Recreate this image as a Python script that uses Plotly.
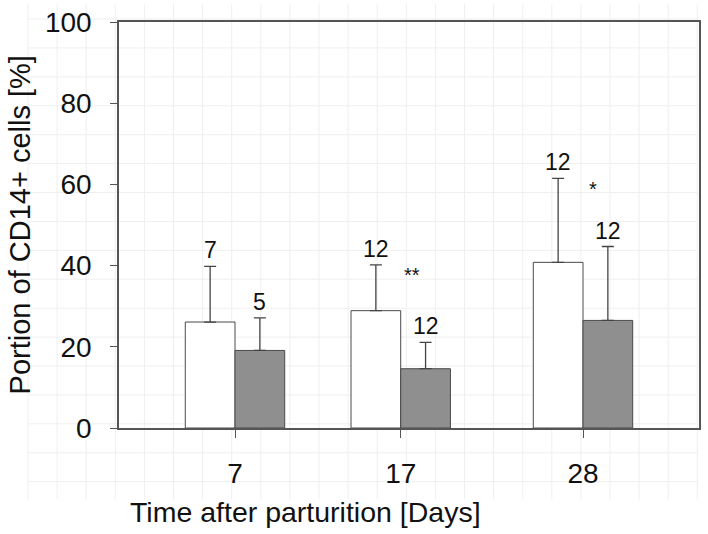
import plotly.graph_objects as go

# ---- data ----
days = [7, 17, 28]
white_mean = [26.1, 28.9, 40.8]
white_err = [13.7, 11.3, 20.7]
white_n = ["7", "12", "12"]
gray_mean = [19.1, 14.6, 26.5]
gray_err = [8.0, 6.5, 18.2]
gray_n = ["5", "12", "12"]
sig_text = ["**", "*"]
sig_x = [17.7, 28.6]
sig_y = [38.5, 59.5]

y_ticks = [0, 20, 40, 60, 80, 100]

FONT = "Liberation Sans, Arial, sans-serif"
AX = "#555555"
BAR_W = 3

fig = go.Figure()
fig.add_trace(go.Bar(
    x=days, y=white_mean, width=BAR_W, offset=-BAR_W,
    marker=dict(color="white", line=dict(color="#4a4a4a", width=1)),
    error_y=dict(type="data", array=white_err, arrayminus=[0] * 3, symmetric=False,
                 color="#444444", thickness=1.3, width=6),
    showlegend=False,
))
fig.add_trace(go.Bar(
    x=days, y=gray_mean, width=BAR_W, offset=0,
    marker=dict(color="#8f8f8f", line=dict(color="#4a4a4a", width=1)),
    error_y=dict(type="data", array=gray_err, arrayminus=[0] * 3, symmetric=False,
                 color="#444444", thickness=1.3, width=6),
    showlegend=False,
))

ann = []
for d, m, e, n in zip(days, white_mean, white_err, white_n):
    ann.append(dict(x=d - BAR_W / 2, y=m + e, text=n, xref="x", yref="y",
                    showarrow=False, yanchor="bottom", yshift=1,
                    font=dict(size=23, family=FONT, color="#111")))
for d, m, e, n in zip(days, gray_mean, gray_err, gray_n):
    ann.append(dict(x=d + BAR_W / 2, y=m + e, text=n, xref="x", yref="y",
                    showarrow=False, yanchor="bottom", yshift=1,
                    font=dict(size=23, family=FONT, color="#111")))
for t, x, y in zip(sig_text, sig_x, sig_y):
    ann.append(dict(x=x, y=y, text=t, xref="x", yref="y", showarrow=False,
                    yanchor="middle", yshift=-3,
                    font=dict(size=20, family=FONT, color="#111")))
# axis titles
ann.append(dict(x=0.322, y=-0.207, xref="paper", yref="paper", showarrow=False,
                text="Time after parturition [Days]", xanchor="center", yanchor="middle",
                font=dict(size=28.5, family=FONT, color="#111")))
ann.append(dict(x=-0.170, y=0.5, xref="paper", yref="paper", showarrow=False,
                text="Portion of CD14+ cells [%]", textangle=-90,
                xanchor="center", yanchor="middle",
                font=dict(size=29, family=FONT, color="#111")))

# faint background grid (scan artefact) drawn below the plot area
W, H = 708, 534
L, R, T, B = 119, 7, 18, 106
pw, ph = W - L - R, H - T - B
step = 29.2
shapes = []
gx0, gx1, gy0, gy1 = 27.7, 699.5, 0, 500
k = 0
while gx0 + k * step <= gx1:
    px = gx0 + k * step
    shapes.append(dict(type="line", xref="paper", yref="paper", layer="below",
                       x0=(px - L) / pw, x1=(px - L) / pw,
                       y0=(H - B - gy0) / ph, y1=(H - B - gy1) / ph,
                       line=dict(color="#efefef", width=1)))
    k += 1
k = 0
while 15 + k * step <= 486:
    py = 15 + k * step
    shapes.append(dict(type="line", xref="paper", yref="paper", layer="below",
                       x0=(gx0 - L) / pw, x1=(gx1 - L) / pw,
                       y0=(H - B - py) / ph, y1=(H - B - py) / ph,
                       line=dict(color="#efefef", width=1)))
    k += 1

fig.update_layout(
    width=W, height=H,
    margin=dict(l=L, r=R, t=T, b=B),
    paper_bgcolor="white", plot_bgcolor="white",
    barmode="overlay",
    annotations=ann,
    shapes=shapes,
    font=dict(family=FONT, color="#111"),
    xaxis=dict(range=[0, 35], tickvals=days, ticktext=[str(d) for d in days],
               showline=True, linecolor=AX, linewidth=1.5, mirror=True,
               ticks="outside", ticklen=8, tickcolor=AX, tickwidth=1.3,
               showgrid=False, zeroline=False,
               tickfont=dict(size=28, family=FONT, color="#111"),
               ticklabelstandoff=12),
    yaxis=dict(range=[0, 100], tickvals=y_ticks,
               showline=True, linecolor=AX, linewidth=1.5, mirror=True,
               ticks="outside", ticklen=7, tickcolor=AX, tickwidth=1.3,
               showgrid=False, zeroline=False,
               tickfont=dict(size=28, family=FONT, color="#111"),
               ticklabelstandoff=13),
    yaxis2=dict(range=[0, 100], tickvals=y_ticks, overlaying="y", side="right",
                anchor="x", showticklabels=False, ticks="inside", ticklen=6,
                tickcolor=AX, tickwidth=1.3, showgrid=False, zeroline=False,
                showline=False),
)

fig.write_html("out.html", config={"displayModeBar": False},
               post_script="document.body.style.margin='0';document.body.style.overflow='hidden';")
